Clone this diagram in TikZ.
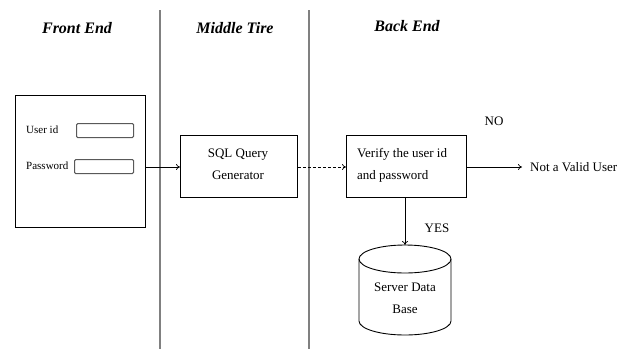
\documentclass[tikz,border=0pt]{standalone}
\usepackage{fontspec}
\setmainfont{Liberation Serif}
\usetikzlibrary{arrows.meta}
\begin{document}
\begin{tikzpicture}[x=1pt,y=-1pt,
  heading/.style={font=\fontsize{16}{18}\selectfont\bfseries\itshape, inner sep=0pt},
  lbl/.style={font=\fontsize{13}{15}\selectfont, inner sep=0pt},
  formlbl/.style={font=\fontsize{11}{13}\selectfont, inner sep=0pt},
  procbox/.style={draw, line width=0.9pt, inner sep=0pt},
  field/.style={draw=black!65, line width=1.1pt, rounded corners=1.2pt, inner sep=0pt},
  tier/.style={draw=black!50, line width=1.3pt},
  flow/.style={-{To[length=4pt,width=6pt]}, line width=0.7pt},
  twoline/.style={font=\fontsize{13}{22}\selectfont}
]
\useasboundingbox (0,0) rectangle (632,349);

% tier separators
\draw[tier] (160,10) -- (160,349);
\draw[tier] (309,10) -- (309,349);

% headings
\node[heading] (hfront) at (77,28) {Front End};
\node[heading] (hmid)   at (235,28) {Middle Tire};
\node[heading] (hback)  at (407,26) {Back End};

% login form
\node[procbox, minimum width=130pt, minimum height=132pt, anchor=north west] (form) at (15,95) {};
\node[formlbl, anchor=west] (uidl) at (26,130) {User id};
\node[field, minimum width=57pt, minimum height=14pt, anchor=north west] (uidf) at (76,123) {};
\node[formlbl, anchor=west] (pwdl) at (26,166) {Password};
\node[field, minimum width=59pt, minimum height=14pt, anchor=north west] (pwdf) at (74,159) {};

% query generator
\node[procbox, minimum width=117pt, minimum height=62pt, anchor=north west] (sql) at (180,135) {};
\node[twoline, align=center, inner sep=0pt] (sqlt) at (238,164) {SQL Query\\Generator};

% verification
\node[procbox, minimum width=120pt, minimum height=62pt, anchor=north west] (ver) at (346,135) {};
\node[twoline, align=left, inner sep=0pt, anchor=west] (vert) at (357,165) {Verify the user id\\and password};

% rejection
\node[lbl, anchor=west] (nv) at (530,167) {Not a Valid User};
\node[lbl] (no) at (494,121) {NO};
\node[lbl] (yes) at (437,228) {YES};

% database (y axis points down, so the lower arc runs through 90 degrees)
\coordinate (dbtop) at (405,245);
\draw[line width=0.9pt] (359,259) -- (359,321) arc[start angle=180, end angle=0, x radius=46, y radius=14] -- (451,259);
\draw[line width=0.9pt] (405,259) ellipse[x radius=46, y radius=14];
\node[twoline, align=center, inner sep=0pt] (db) at (405,298) {Server Data\\Base};

% connectors
\draw[flow] (form.east |- 0,167) -- (sql.west |- 0,167);
\draw[flow, dashed, dash pattern=on 3pt off 2pt] (sql.east |- 0,167) -- (ver.west |- 0,167);
\draw[flow] (ver.east |- 0,167) -- ([xshift=-8pt]nv.west);
\draw[flow] (ver.south -| dbtop) -- (dbtop);
\end{tikzpicture}
\end{document}
